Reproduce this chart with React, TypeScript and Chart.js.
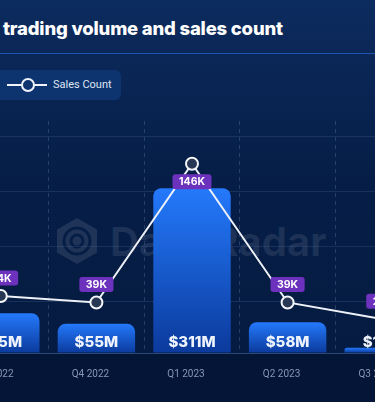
import React, { useEffect, useRef } from "react";
import { Chart, registerables } from "chart.js";

Chart.register(...registerables);

// ---- data ----
const QUARTERS = ["Q3 2022", "Q4 2022", "Q1 2023", "Q2 2023", "Q3 2023"];
const VOLUME_M = [75, 55, 311, 58, 10]; // trading volume, $M
const SALES_K = [44, 39, 146, 39, 26]; // sales count, thousands
const GRID_TICKS = [0, 98, 202, 305, 409]; // horizontal grid values on the volume axis
const VOLUME_MAX = 438;
const SALES_MAX = 179;

const volumeLabel = (v: number) => `$${v}M`;
const salesLabel = (v: number) => `${v}K`;

const labelPlugin = {
  id: "valueLabels",
  afterDatasetsDraw(chart: any) {
    const ctx = chart.ctx as CanvasRenderingContext2D;
    const yS = chart.scales.y;
    const base = yS.getPixelForValue(0);
    const barMeta = chart.getDatasetMeta(1);
    ctx.save();
    ctx.font = "800 15px Inter, sans-serif";
    ctx.fillStyle = "#eef3fc";
    ctx.textAlign = "center";
    ctx.textBaseline = "middle";
    barMeta.data.forEach((el: any, i: number) => {
      ctx.fillText(volumeLabel(VOLUME_M[i]), el.x, base - 11);
    });
    const lineMeta = chart.getDatasetMeta(0);
    const maxV = Math.max(...SALES_K);
    ctx.font = "700 10.5px Inter, sans-serif";
    lineMeta.data.forEach((el: any, i: number) => {
      const txt = salesLabel(SALES_K[i]);
      const w = ctx.measureText(txt).width + 13;
      const h = 15;
      const below = SALES_K[i] === maxV;
      const top = below ? el.y + 10.5 : el.y - 10.5 - h;
      const left = el.x - w / 2;
      ctx.fillStyle = "#6c31bd";
      ctx.beginPath();
      (ctx as any).roundRect(left, top, w, h, 3);
      ctx.fill();
      ctx.fillStyle = "#ffffff";
      ctx.fillText(txt, el.x, top + h / 2 + 0.5);
    });
    ctx.restore();
  },
};

function ChartCanvas() {
  const ref = useRef<HTMLCanvasElement | null>(null);
  useEffect(() => {
    if (!ref.current) return;
    const chart = new Chart(ref.current, {
      type: "bar",
      data: {
        labels: QUARTERS,
        datasets: [
          {
            type: "line",
            label: "Sales Count",
            data: SALES_K,
            yAxisID: "y1",
            order: 0,
            borderColor: "#eef2f8",
            borderWidth: 2,
            pointRadius: 6,
            pointHoverRadius: 6,
            pointBorderWidth: 2,
            pointBorderColor: "#f4f6fa",
            pointBackgroundColor: "#273754",
            tension: 0,
          } as any,
          {
            type: "bar",
            label: "Trading Volume",
            data: VOLUME_M,
            yAxisID: "y",
            order: 1,
            barPercentage: 0.81,
            categoryPercentage: 1,
            borderRadius: { topLeft: 8, topRight: 8, bottomLeft: 0, bottomRight: 0 },
            borderSkipped: "bottom",
            backgroundColor: (c: any) => {
              const ch = c.chart;
              if (!ch.chartArea || c.type !== "data") return "#1c6cf0";
              const yS = ch.scales.y;
              const top = yS.getPixelForValue(c.raw);
              const bottom = yS.getPixelForValue(0);
              const g = ch.ctx.createLinearGradient(0, top, 0, bottom);
              g.addColorStop(0, "#2479fb");
              g.addColorStop(1, "#0b3a9c");
              return g;
            },
          } as any,
        ],
      },
      options: {
        animation: false,
        responsive: true,
        maintainAspectRatio: false,
        layout: { padding: 0, autoPadding: false },
        plugins: { legend: { display: false }, tooltip: { enabled: false } },
        scales: {
          x: {
            offset: true,
            afterFit: (axis: any) => {
              axis.height = 31;
            },
            grid: {
              display: true,
              offset: true,
              color: "rgba(120,150,200,0.28)",
              lineWidth: 1,
              drawTicks: false,
            },
            border: { display: true, color: "rgba(90,120,170,0.35)", width: 1, dash: [4, 4] },
            ticks: {
              color: "#8797b6",
              font: { family: "Roboto, sans-serif", size: 10 },
              padding: 15,
              labelOffset: -6,
            },
          },
          y: {
            min: 0,
            max: VOLUME_MAX,
            display: true,
            position: "left",
            afterFit: (axis: any) => {
              axis.width = 0;
            },
            afterBuildTicks: (axis: any) => {
              axis.ticks = GRID_TICKS.map((v) => ({ value: v }));
            },
            grid: { color: "rgba(90,125,180,0.22)", drawTicks: false, lineWidth: 1 },
            border: { display: false },
            ticks: { display: false },
          },
          y1: {
            min: 0,
            max: SALES_MAX,
            display: false,
            position: "right",
          },
        },
      },
      plugins: [labelPlugin],
    });
    return () => chart.destroy();
  }, []);
  return <canvas ref={ref} />;
}

export default function App() {
  return (
    <div
      style={{
        position: "fixed",
        left: 0,
        top: 0,
        width: 375,
        height: 402,
        overflow: "hidden",
        background: "linear-gradient(180deg, #0c2b5e 0%, #0a2655 18%, #061e47 45%, #051a3f 100%)",
        fontFamily: "Inter, sans-serif",
      }}
    >
      <div
        style={{
          position: "absolute",
          left: 3,
          top: 17,
          fontSize: 18.5,
          lineHeight: "22px",
          fontWeight: 800,
          color: "#ffffff",
          whiteSpace: "nowrap",
          letterSpacing: -0.2,
        }}
      >
        trading volume and sales count
      </div>
      <div
        style={{
          position: "absolute",
          left: 0,
          top: 53,
          width: 375,
          height: 1,
          background: "#1f56ad",
        }}
      />
      <div
        style={{
          position: "absolute",
          left: -10,
          top: 70,
          width: 131,
          height: 30,
          borderRadius: 6,
          background: "#0e3470",
        }}
      >
        <svg width={60} height={30} style={{ position: "absolute", left: 10, top: 0 }}>
          <line x1={7} y1={15} x2={47} y2={15} stroke="#f0f3f8" strokeWidth={2} />
          <circle cx={28} cy={15} r={6} fill="#0e3470" stroke="#f0f3f8" strokeWidth={2} />
        </svg>
        <div
          style={{
            position: "absolute",
            left: 63,
            top: 0,
            lineHeight: "30px",
            fontSize: 11,
            fontFamily: "Roboto, sans-serif",
            color: "#dfe6f2",
            whiteSpace: "nowrap",
          }}
        >
          Sales Count
        </div>
      </div>
      <div
        style={{
          position: "absolute",
          left: 0,
          top: 354,
          width: 375,
          height: 48,
          background: "rgba(2,14,40,0.35)",
        }}
      />
      {/* watermark */}
      <svg width={50} height={50} style={{ position: "absolute", left: 52, top: 216, opacity: 0.1 }}>
        <polygon points="25,2 45,13.5 45,36.5 25,48 5,36.5 5,13.5" fill="#ffffff" />
        <circle cx={25} cy={25} r={13} fill="none" stroke="#061e47" strokeWidth={3} />
        <circle cx={25} cy={25} r={6} fill="none" stroke="#061e47" strokeWidth={3} />
      </svg>
      <div
        style={{
          position: "absolute",
          left: 110,
          top: 218,
          fontSize: 40,
          lineHeight: "48px",
          fontWeight: 700,
          color: "rgba(255,255,255,0.09)",
          whiteSpace: "nowrap",
        }}
      >
        DappRadar
      </div>
      <div style={{ position: "absolute", left: -47, top: 121, width: 478, height: 263 }}>
        <ChartCanvas />
      </div>
    </div>
  );
}
